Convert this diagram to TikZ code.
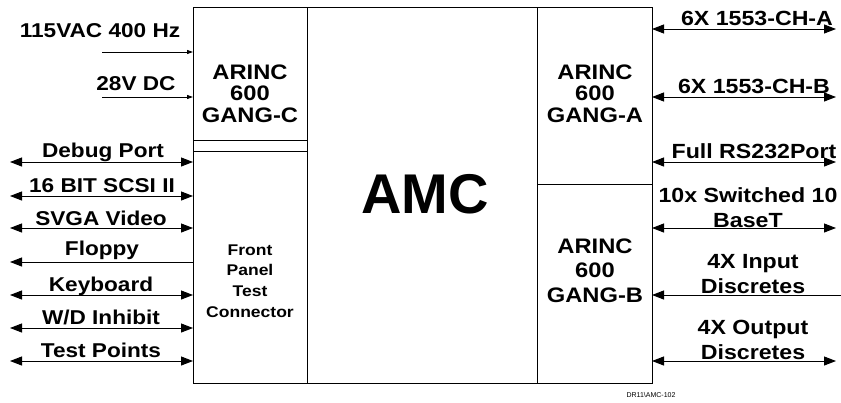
\documentclass[tikz,border=0pt]{standalone}
\usepackage{fontspec}
\setmainfont{Liberation Sans}
\newfontfamily\lblfont{Liberation Sans}[FakeStretch=1.13]
\usetikzlibrary{arrows.meta}
\begin{document}
\begin{tikzpicture}[x=1pt,y=-1pt,
  blk/.style={draw, line width=1pt, inner sep=0pt, outer sep=0pt, anchor=north west},
  lbl/.style={font=\lblfont\bfseries\fontsize{20}{25}\selectfont, inner sep=0pt, anchor=base, align=center},
  rlbl/.style={font=\lblfont\bfseries\fontsize{20.5}{24.5}\selectfont, inner sep=0pt, anchor=base, align=center},
  boxtxt/.style={font=\lblfont\bfseries\fontsize{21}{21.5}\selectfont, inner sep=0pt, anchor=base, align=center},
  bi/.style={line width=1pt, {Triangle[length=12pt,width=9pt]}-{Triangle[length=12pt,width=9pt]}},
  toleft/.style={line width=1pt, -{Triangle[length=12pt,width=9pt]}},
  thin/.style={line width=1pt, -{Triangle[length=6pt,width=4pt]}}
]
\useasboundingbox (0,0) rectangle (841,402);
% blocks
\node[blk, minimum width=114pt, minimum height=376pt] (lbox) at (193,7) {};
\node[blk, minimum width=230pt, minimum height=376pt] (mbox) at (307,7) {};
\node[blk, minimum width=115pt, minimum height=177pt] (rtop) at (537,7) {};
\node[blk, minimum width=115pt, minimum height=199pt] (rbot) at (537,184) {};
\coordinate (d1) at (193,140);
\coordinate (d2) at (193,151);
\draw[line width=1pt] (d1) -- (d1 -| mbox.west);
\draw[line width=1pt] (d2) -- (d2 -| mbox.west);
% block texts (base = baseline of last line)
\node[boxtxt] (gangc) at (250,122) {ARINC\\600\\GANG-C};
\node[boxtxt] (ganga) at (595,122) {ARINC\\600\\GANG-A};
\node[boxtxt, font=\lblfont\bfseries\fontsize{21}{24.5}\selectfont] (gangb) at (595,302) {ARINC\\600\\GANG-B};
\node[boxtxt, font=\lblfont\bfseries\fontsize{15.5}{20.6}\selectfont] (fptc) at (250,317) {Front\\Panel\\Test\\Connector};
\node[font=\bfseries\fontsize{56}{60}\selectfont, inner sep=0pt, anchor=base] (amc) at (425,213) {AMC};
\node[font=\fontsize{7}{8}\selectfont, inner sep=0pt, anchor=base] (ref) at (651,397) {DR11\textbackslash AMC-102};
% left inputs
\coordinate (acL) at (102,52);
\coordinate (dcL) at (102,97);
\draw[thin] (acL) -- (acL -| lbox.west);
\draw[thin] (dcL) -- (dcL -| lbox.west);
\node[lbl] (acT) at (100,37) {115VAC 400 Hz};
\node[lbl] (dcT) at (136,90) {28V DC};
% left bidirectional
\coordinate (dbgL) at (10,162);
\coordinate (scsiL) at (10,196);
\coordinate (svgaL) at (10,228);
\coordinate (flpL) at (10,262);
\coordinate (kbdL) at (10,295);
\coordinate (wdL) at (10,328);
\coordinate (tpL) at (10,361);
\draw[bi] (dbgL) -- (dbgL -| lbox.west);
\draw[bi] (scsiL) -- (scsiL -| lbox.west);
\draw[bi] (svgaL) -- (svgaL -| lbox.west);
\draw[toleft] (flpL -| lbox.west) -- (flpL);
\draw[bi] (kbdL) -- (kbdL -| lbox.west);
\draw[bi] (wdL) -- (wdL -| lbox.west);
\draw[bi] (tpL) -- (tpL -| lbox.west);
\node[lbl] (dbgT) at (103,157) {Debug Port};
\node[lbl] (scsiT) at (102,192) {16 BIT SCSI II};
\node[lbl] (svgaT) at (101,225) {SVGA Video};
\node[lbl] (flpT) at (102,255) {Floppy};
\node[lbl] (kbdT) at (101,291) {Keyboard};
\node[lbl] (wdT) at (101,324) {W/D Inhibit};
\node[lbl] (tpT) at (101,357) {Test Points};
% right side
\coordinate (chaR) at (836,29);
\coordinate (chbR) at (836,97);
\coordinate (rsR) at (836,162);
\coordinate (ethR) at (836,228);
\coordinate (inR) at (841,295);
\coordinate (outR) at (836,361);
\draw[bi] (chaR -| rtop.east) -- (chaR);
\draw[bi] (chbR -| rtop.east) -- (chbR);
\draw[bi] (rsR -| rtop.east) -- (rsR);
\draw[bi] (ethR -| rbot.east) -- (ethR);
\draw[toleft] (inR) -- (inR -| rbot.east);
\draw[bi] (outR -| rbot.east) -- (outR);
\node[rlbl] (chaT) at (757,25) {6X 1553-CH-A};
\node[rlbl] (chbT) at (754,93) {6X 1553-CH-B};
\node[rlbl] (rsT) at (754,158) {Full RS232Port};
\node[rlbl, font=\lblfont\bfseries\fontsize{20.5}{25}\selectfont] (ethT) at (748,227) {10x Switched 10\\BaseT};
\node[rlbl] (inT) at (753,293) {4X Input\\Discretes};
\node[rlbl, font=\lblfont\bfseries\fontsize{20.5}{25}\selectfont] (outT) at (753,359) {4X Output\\Discretes};
\end{tikzpicture}
\end{document}
